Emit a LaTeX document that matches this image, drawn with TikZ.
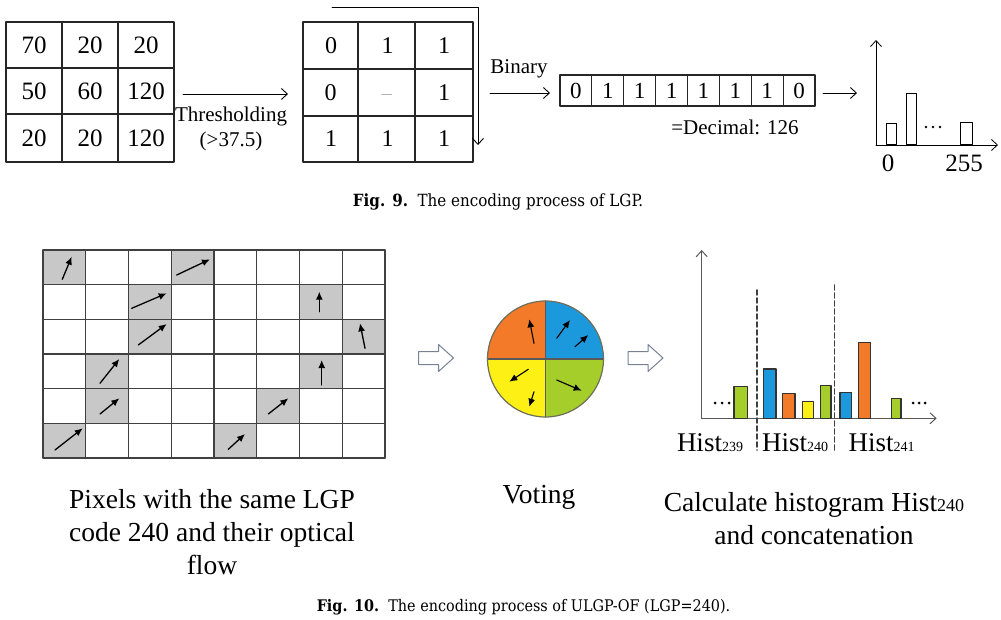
\documentclass[tikz,border=0pt]{standalone}
\usepackage{fontspec}
\setmainfont{Liberation Serif}
\newfontfamily\capfont{DejaVu Serif Condensed}
\usetikzlibrary{arrows.meta}

\definecolor{celdagris}{RGB}{200,200,200}
\definecolor{naranja}{RGB}{242,122,40}
\definecolor{azul}{RGB}{28,152,220}
\definecolor{amarillo}{RGB}{252,240,20}
\definecolor{verde}{RGB}{166,206,42}
\definecolor{borde}{RGB}{110,110,90}
\definecolor{hueco}{RGB}{120,130,150}
\newcommand{\tam}[2]{\fontsize{#1}{#2}\selectfont}

\begin{document}
\begin{tikzpicture}[x=1pt,y=-1pt,line cap=round,line join=round,
  linea/.style={line width=1.2pt,black!85},
  flecha/.style={-{Straight Barb[length=6pt,width=11pt]},line width=0.9pt},
  vector/.style={-{Latex[length=8pt,width=7pt]},line width=1.3pt},
  barra/.style={draw=black!80,line width=1.2pt},
  bloque/.style={draw=hueco,fill=white,line width=1pt},
  texto/.style={font=\tam{27.5}{33},align=center,inner sep=0pt}]
  \useasboundingbox (0,0) rectangle (1001,620);

  % Rejilla de valores
  \draw[linea] (6,22) rectangle (174,162);
  \draw[linea] (62,22) -- (62,162) (118,22) -- (118,162) (6,68) -- (174,68) (6,114) -- (174,114);
  \foreach \y/\fila in {45/{70,20,20},91/{50,60,120},138/{20,20,120}}
    \foreach \v [count=\c] in \fila
      \node[font=\tam{25}{25}] (a-\y-\c) at ({-22+56*\c},\y) {\v};

  % Umbral
  \coordinate (umbral-ini) at (183,94);
  \coordinate (umbral-fin) at (288,94);
  \draw[flecha] (umbral-ini) -- (umbral-fin);
  \node[font=\tam{21}{21},anchor=base] (umbral) at (231,121.7) {Thresholding};
  \node[font=\tam{21}{21},anchor=base] (umbral-valor) at (231,146.5) {(>37.5)};

  % Rejilla binaria
  \draw[linea] (303,22) rectangle (473,162);
  \draw[linea] (358,22) -- (358,162) (415,22) -- (415,162) (303,69) -- (473,69) (303,116) -- (473,116);
  \foreach \y/\fila in {45.5/{0,1,1},139/{1,1,1}}
    \foreach \v [count=\c] in \fila
      \node[font=\tam{24}{24}] (b-\y-\c) at ({274.5+56.5*\c},\y) {\v};
  \node[font=\tam{24}{24}] (b-izq) at (330.5,92.5) {0};
  \node[font=\tam{24}{24}] (b-der) at (444,92.5) {1};
  \draw[gray!60,line width=1pt] (381.5,95) -- (391.5,95);

  % Recorrido
  \coordinate (giro-ini) at (332,7);
  \coordinate (giro-fin) at (478,145);
  \draw[flecha] (giro-ini) -| (giro-fin);

  % Codigo binario
  \node[font=\tam{21}{21},anchor=base] (binario) at (519,74) {Binary};
  \coordinate (bin-ini) at (490,93);
  \coordinate (bin-fin) at (550,93);
  \draw[flecha] (bin-ini) -- (bin-fin);
  \draw[linea] (560,75) rectangle (815,106);
  \foreach \i in {1,...,7}
    \draw[linea] ({560+31.875*\i},75) -- ({560+31.875*\i},106);
  \foreach \v [count=\c] in {0,1,1,1,1,1,1,0}
    \node[font=\tam{23}{23}] (bit-\c) at ({560+31.875*(\c-0.5)},90.5) {\v};
  \node[font=\tam{21}{21},anchor=base] (decimal) at (735,135) {=Decimal: 126};
  \coordinate (hist-ini) at (823,93);
  \coordinate (hist-fin) at (857,93);
  \draw[flecha] (hist-ini) -- (hist-fin);

  % Histograma LGP
  \draw[flecha,line width=0.8pt] (876,145) -- (876,40);
  \draw[flecha,line width=0.8pt] (876,145) -- (998,145);
  \draw[line width=1pt] (886,145) rectangle (896,124);
  \draw[line width=1pt] (906,145) rectangle (916,94);
  \draw[line width=1pt] (960,145) rectangle (972,123);
  \foreach \x in {926,933,940}
    \fill (\x,127) circle (1.3);
  \node[font=\tam{25}{25},anchor=base] (cero) at (888,172) {0};
  \node[font=\tam{25}{25},anchor=base] (maximo) at (964,172) {255};

  % Pie de figura 9
  \node[font=\capfont\tam{16.8}{16.8},anchor=base] (fig9) at (498,207)
    {\textbf{Fig. 9.}\ \ The encoding process of LGP.};

  % Pixeles con flujo optico
  \foreach \c/\r in {0/0,3/0,2/1,6/1,2/2,7/2,1/3,6/3,1/4,5/4,0/5,4/5}
    \fill[celdagris] ({43+42.75*\c},{250+34.67*\r}) rectangle +(42.75,34.67);
  \foreach \i in {0,...,8}
    \draw[line width=1.3pt,black!75] ({43+42.75*\i},250) -- ({43+42.75*\i},458);
  \foreach \j in {0,...,6}
    \draw[line width=1.3pt,black!75] (43,{250+34.67*\j}) -- (385,{250+34.67*\j});
  \foreach \xa/\ya/\xb/\yb in {62.3/279.3/71.7/256.7, 176.7/275/210/259.3,
      131.7/308.3/166.7/293.3, 319.3/311.7/319.3/291.7, 138.3/345/166.7/324,
      365/348.3/360/323.3, 100/383.3/119.3/359, 321.7/385/321.7/360,
      100/414/119.3/398.3, 268.3/414/288.3/398.3, 55/450/82.7/428.3,
      228.3/449.3/245/434}
    \draw[vector] (\xa,\ya) -- (\xb,\yb);

  % Flechas huecas
  \foreach \cx in {436,645.5}
    \draw[bloque] (\cx,358) +(-17.5,-6.5) -- +(2.5,-6.5) -- +(2.5,-13.5)
      -- +(17.5,0) -- +(2.5,13.5) -- +(2.5,6.5) -- +(-17.5,6.5) -- cycle;

  % Votacion
  \coordinate (centro) at (545.5,359);
  \fill[verde] (centro) -- +(0:58) arc[start angle=0,end angle=90,radius=58] -- cycle;
  \fill[amarillo] (centro) -- +(90:58) arc[start angle=90,end angle=180,radius=58] -- cycle;
  \fill[naranja] (centro) -- +(180:58) arc[start angle=180,end angle=270,radius=58] -- cycle;
  \fill[azul] (centro) -- +(270:58) arc[start angle=270,end angle=360,radius=58] -- cycle;
  \draw[black!65,line width=1.3pt] (centro) +(-58,0) -- +(58,0) +(0,-58) -- +(0,58);
  \draw[borde,line width=1.2pt] (centro) circle[radius=58];
  \foreach \xa/\ya/\xb/\yb in {534/343.3/529.3/319.3, 556.7/338.3/570/320,
      575/346.7/588.3/335, 528.3/369.3/509.3/381.7, 534/391.7/529.3/406.7,
      556.7/380/581.7/390.7}
    \draw[vector,line width=1.1pt] (\xa,\ya) -- (\xb,\yb);

  % Histograma concatenado
  \draw[flecha,line width=1pt,black!65] (701.7,418.3) -- (701.7,250);
  \draw[flecha,line width=1pt,black!65] (701.7,418.3) -- (936.7,418.3);
  \draw[barra,fill=verde] (734,418.3) rectangle (747.7,386.7);
  \draw[barra,fill=azul] (763.3,418.3) rectangle (776,369);
  \draw[barra,fill=naranja] (782.3,418.3) rectangle (795,393.3);
  \draw[barra,fill=amarillo] (802.7,418.3) rectangle (813.3,401.7);
  \draw[barra,fill=verde] (820.7,418.3) rectangle (831,385.7);
  \draw[barra,fill=azul] (840,418.3) rectangle (851.7,392.3);
  \draw[barra,fill=naranja] (858.3,418.3) rectangle (870.7,342.3);
  \draw[barra,fill=verde] (891.7,418.3) rectangle (901,398.3);
  \draw[black!75,line width=1.6pt,dash pattern=on 5pt off 3pt] (756.7,290) -- (756.7,450);
  \draw[black!75,line width=1.6pt,dash pattern=on 5pt off 3pt] (834.3,285) -- (834.3,450);
  \foreach \x in {715,722,729,913,919,925}
    \fill (\x,403) circle (1.5);
  \node[font=\tam{27}{27},anchor=base] (h239) at (710,451) {Hist{\tam{14}{14}239}};
  \node[font=\tam{27}{27},anchor=base] (h240) at (795,451) {Hist{\tam{14}{14}240}};
  \node[font=\tam{27}{27},anchor=base] (h241) at (881.5,451) {Hist{\tam{14}{14}241}};

  % Textos
  \node[texto,anchor=north] (pixeles) at (212,489)
    {Pixels with the same LGP\\code 240 and their optical\\flow};
  \node[texto,anchor=base] (votacion) at (539,503.3) {Voting};
  \node[texto,anchor=north] (calculo) at (814,492)
    {Calculate histogram Hist{\tam{18}{18}240}\\and concatenation};

  % Pie de figura 10
  \node[font=\capfont\tam{16}{16},anchor=base] (fig10) at (523.5,611.7)
    {\textbf{Fig. 10.}\ \ The encoding process of ULGP-OF (LGP=240).};
\end{tikzpicture}
\end{document}
